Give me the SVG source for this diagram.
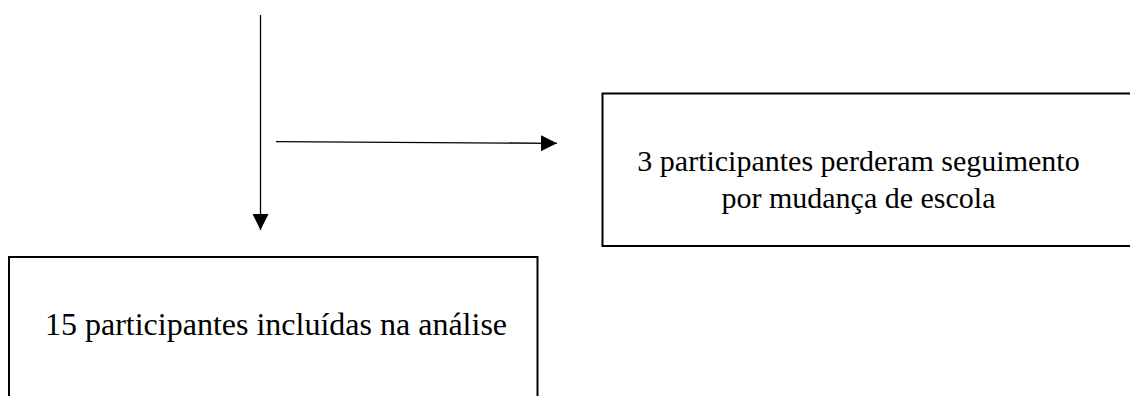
<svg xmlns="http://www.w3.org/2000/svg" width="1130" height="396" viewBox="0 0 1130 396">
<style>
.box{fill:#fff;stroke:#000;stroke-width:2}
.lbl{font-family:"Liberation Serif","Times New Roman",serif;font-size:30px;fill:#000;text-anchor:middle}
.big{font-size:32px}
.conn{stroke:#000;stroke-width:1.3;fill:none}
</style>
<defs>
<marker id="arr" markerUnits="userSpaceOnUse" markerWidth="16" markerHeight="16" refX="16" refY="8" orient="auto">
<path d="M0,0 L16,8 L0,16 Z" fill="#000"/>
</marker>
</defs>
<rect width="1130" height="396" fill="#fff"/>
<g id="connectors">
<line class="conn" x1="260.5" y1="15" x2="260.5" y2="230" marker-end="url(#arr)"/>
<line class="conn" x1="276" y1="141.7" x2="557" y2="143.3" marker-end="url(#arr)"/>
</g>
<g id="node-lost">
<rect class="box" x="602.5" y="93.5" width="540" height="152.5"/>
<text class="lbl" x="858.5" y="170.5">3 participantes perderam seguimento</text>
<text class="lbl" x="858.5" y="208">por mudança de escola</text>
</g>
<g id="node-included">
<rect class="box" x="9" y="257" width="528.5" height="160"/>
<text class="lbl big" x="276" y="334.5">15 participantes incluídas na análise</text>
</g>
</svg>
